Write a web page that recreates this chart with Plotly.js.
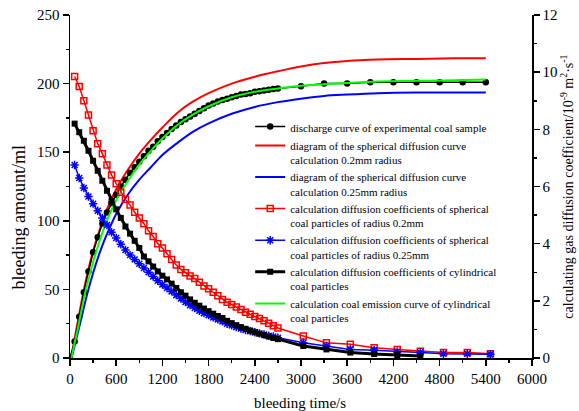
<!DOCTYPE html>
<html>
<head>
<meta charset="utf-8">
<script src="https://cdn.plot.ly/plotly-3.0.1.min.js"></script>
<style>html,body{margin:0;padding:0;background:#fff;}#chart{width:579px;height:411px;}</style>
</head>
<body>
<div id="chart"></div>
<script>
// ---- data ----
// rising (left axis, ml)
var tCurve = [20, 60, 100, 160, 220, 300, 400, 500, 600, 750, 900, 1050, 1200, 1400, 1600, 1800, 2100, 2400, 2700, 3000, 3300, 3600, 4000, 4500, 5000, 5400];
var sphere02Curve = [0, 14, 26, 44, 60, 78, 96, 111, 123, 137, 149, 159, 168, 179, 187, 193, 200, 205, 209, 212.5, 215, 216.5, 217.5, 218, 218.5, 218.5];
var sphere025Curve = [0, 9, 18, 32, 46, 62, 79, 93, 105, 119, 130, 139, 148, 157, 165, 171, 178, 183, 186.5, 189, 191, 192, 193, 193.5, 193.5, 193.5];
var cylinderCurve = [0, 11, 21, 38, 53, 70, 88, 103, 115, 129, 141, 151, 160, 170, 177.5, 183.5, 190, 194, 196.5, 198.5, 199.5, 200.5, 201.5, 202, 202.5, 203];

var tExp = [0, 60, 120, 180, 240, 300, 360, 420, 480, 540, 600, 660, 720, 780, 840, 900, 960, 1020, 1080, 1140, 1200, 1260, 1320, 1380, 1440, 1500, 1560, 1620, 1680, 1740, 1800, 1860, 1920, 1980, 2040, 2100, 2160, 2220, 2280, 2340, 2400, 2460, 2520, 2580, 2640, 2700, 3000, 3300, 3600, 3900, 4200, 4500, 4800, 5100, 5400];
var expDischarge = [0, 12, 30, 48, 63, 77, 88, 98, 106, 113, 119, 125, 130, 135, 139, 143, 147, 151, 154, 158, 161, 164, 167, 169.5, 172, 174, 176, 178, 180, 182, 184, 185.5, 187, 188, 189, 190, 191, 192, 192.5, 193, 194, 194.5, 195, 195.5, 196, 196.5, 198, 200, 200, 201, 201, 201, 201, 201, 201];

// decreasing (right axis, 10^-9 m^2 s^-1)
var tDense = [60, 120, 180, 240, 300, 360, 420, 480, 540, 600, 660, 720, 780, 840, 900, 960, 1020, 1080, 1140, 1200, 1260, 1320, 1380, 1440, 1500, 1560, 1620, 1680, 1740, 1800, 1860, 1920, 1980, 2040, 2100, 2160, 2220, 2280, 2340, 2400, 2460, 2520, 2580, 2640, 2700];
var tSparse = [3030, 3330, 3640, 3950, 4250, 4550, 4850, 5160, 5460];

var dSphere02Dense = [9.85, 9.5, 9.0, 8.5, 7.95, 7.5, 7.15, 6.75, 6.4, 6.1, 5.8, 5.55, 5.35, 5.1, 4.9, 4.7, 4.45, 4.25, 4.0, 3.85, 3.65, 3.45, 3.25, 3.1, 2.98, 2.87, 2.78, 2.65, 2.52, 2.42, 2.3, 2.18, 2.05, 1.95, 1.87, 1.78, 1.7, 1.6, 1.53, 1.45, 1.38, 1.3, 1.22, 1.13, 1.05];
var dSphere02Sparse = [0.77, 0.53, 0.48, 0.36, 0.3, 0.24, 0.19, 0.19, 0.15];

var dSphere025Dense = [6.75, 6.3, 5.95, 5.65, 5.4, 5.15, 4.9, 4.65, 4.4, 4.2, 3.98, 3.78, 3.6, 3.45, 3.3, 3.15, 3.0, 2.85, 2.7, 2.57, 2.45, 2.33, 2.2, 2.08, 1.96, 1.85, 1.75, 1.65, 1.57, 1.5, 1.42, 1.35, 1.28, 1.2, 1.14, 1.08, 1.03, 0.98, 0.94, 0.9, 0.86, 0.82, 0.78, 0.75, 0.71];
var dSphere025Sparse = [0.53, 0.42, 0.3, 0.27, 0.22, 0.19, 0.15, 0.15, 0.13];

var dCylDense = [8.2, 7.9, 7.6, 7.25, 6.9, 6.55, 6.2, 5.85, 5.5, 5.2, 4.9, 4.6, 4.35, 4.1, 3.85, 3.55, 3.38, 3.2, 3.03, 2.88, 2.75, 2.6, 2.45, 2.3, 2.18, 2.05, 1.93, 1.83, 1.73, 1.64, 1.55, 1.47, 1.4, 1.3, 1.22, 1.15, 1.08, 1.02, 0.96, 0.9, 0.85, 0.8, 0.75, 0.7, 0.66];
var tCylSparse = [3030, 3330, 3640, 3950, 4250, 4550];
var dCylSparse = [0.42, 0.3, 0.19, 0.14, 0.1, 0.07];

var legendNames = [
  "discharge curve of experimental coal sample",
  "diagram of the spherical diffusion curve<br>calculation 0.2mm radius",
  "diagram of the spherical diffusion curve<br>calculation 0.25mm radius",
  "calculation diffusion coefficients of spherical<br>coal particles of radius 0.2mm",
  "calculation diffusion coefficients of spherical<br>coal particles of radius 0.25mm",
  "calculation diffusion coefficients of cylindrical<br>coal particles",
  "calculation coal emission curve of cylindrical<br>coal particles"
];

// ---- traces ----
var serif = "Liberation Serif, Times New Roman, serif";
var traces = [
  {x: tDense.concat(tSparse), y: dSphere02Dense.concat(dSphere02Sparse), yaxis: 'y2', mode: 'lines+markers',
   name: legendNames[3], legendrank: 4,
   line: {color: '#ff0000', width: 1.5},
   marker: {symbol: 'square-open', size: 6, color: '#ff0000', line: {width: 1.5, color: '#ff0000'}}},
  {x: tDense.concat(tSparse), y: dSphere025Dense.concat(dSphere025Sparse), yaxis: 'y2', mode: 'lines+markers',
   name: legendNames[4], legendrank: 5,
   line: {color: '#0000ff', width: 1.5},
   marker: {symbol: 'asterisk-open', size: 7, color: '#0000ff', line: {width: 1.5, color: '#0000ff'}}},
  {x: tDense.concat(tCylSparse), y: dCylDense.concat(dCylSparse), yaxis: 'y2', mode: 'lines+markers',
   name: legendNames[5], legendrank: 6,
   line: {color: '#000000', width: 3},
   marker: {symbol: 'square', size: 6, color: '#000000'}},
  {x: tCurve, y: sphere02Curve, mode: 'lines', name: legendNames[1], legendrank: 2,
   line: {color: '#ff0000', width: 2, shape: 'spline'}},
  {x: tCurve, y: sphere025Curve, mode: 'lines', name: legendNames[2], legendrank: 3,
   line: {color: '#0000ff', width: 2, shape: 'spline'}},
  {x: tExp, y: expDischarge, mode: 'lines+markers', name: legendNames[0], legendrank: 1,
   line: {color: '#000000', width: 1.5},
   marker: {symbol: 'circle', size: 6.5, color: '#000000'}},
  {x: tCurve, y: cylinderCurve, mode: 'lines', name: legendNames[6], legendrank: 7,
   line: {color: '#00ff00', width: 2, shape: 'spline'}}
];

var axisCommon = {
  showline: true, linecolor: '#000', linewidth: 1.5,
  ticks: 'outside', ticklen: 6, tickwidth: 1.5, tickcolor: '#000',
  showgrid: false, zeroline: false,
  tickfont: {family: serif, size: 15, color: '#000'}
};

var layout = {
  width: 579, height: 411,
  margin: {l: 70, r: 47, t: 15, b: 53},
  paper_bgcolor: '#fff', plot_bgcolor: '#fff',
  font: {family: serif, color: '#000'},
  showlegend: true,
  legend: {x: 0.39, y: 0.715, xanchor: 'left', yanchor: 'top', bgcolor: 'rgba(0,0,0,0)',
           font: {family: serif, size: 11, color: '#000'}, valign: 'top', itemwidth: 30},
  xaxis: Object.assign({}, axisCommon, {range: [0, 6000], dtick: 600, tick0: 0,
    minor: {dtick: 300, ticks: 'outside', ticklen: 3, tickwidth: 1.5, tickcolor: '#000'}}),
  yaxis: Object.assign({}, axisCommon, {range: [0, 250], dtick: 50, tick0: 0,
    minor: {dtick: 25, ticks: 'outside', ticklen: 3, tickwidth: 1.5, tickcolor: '#000'}}),
  yaxis2: Object.assign({}, axisCommon, {range: [0, 12], dtick: 2, tick0: 0, overlaying: 'y', side: 'right',
    minor: {dtick: 1, ticks: 'outside', ticklen: 3, tickwidth: 1.5, tickcolor: '#000'}}),
  annotations: [
    {text: 'bleeding amount/ml', xref: 'paper', yref: 'paper', x: -0.11, y: 0.41, textangle: -90,
     showarrow: false, xanchor: 'center', yanchor: 'middle', font: {family: serif, size: 18, color: '#000'}},
    {text: 'bleeding time/s', xref: 'paper', yref: 'paper', x: 0.497, y: -0.13,
     showarrow: false, xanchor: 'center', yanchor: 'middle', font: {family: serif, size: 15, color: '#000'}},
    {text: 'calculating gas diffusion coefficient/10<sup>-9</sup> m<sup>2</sup>·s<sup>-1</sup>', xref: 'paper', yref: 'paper',
     x: 1.074, y: 0.5, textangle: -90, showarrow: false, xanchor: 'center', yanchor: 'middle',
     font: {family: serif, size: 14, color: '#000'}}
  ]
};

Plotly.newPlot('chart', traces, layout, {staticPlot: true, displayModeBar: false});
</script>
</body>
</html>
